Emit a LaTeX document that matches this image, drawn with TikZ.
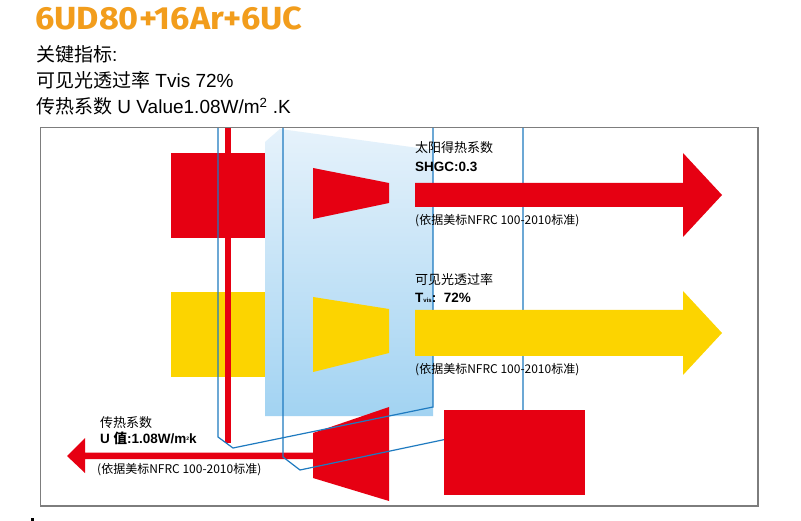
\documentclass[tikz,border=0pt]{standalone}
\usepackage{fontspec}
\setmainfont{Liberation Sans}
\newfontfamily\cjk{Noto Sans CJK SC}
\newfontfamily\titlefont{Fira Sans}
\definecolor{cred}{RGB}{230,0,18}
\definecolor{cyel}{RGB}{252,212,0}
\definecolor{cblue}{RGB}{30,122,192}
\definecolor{corange}{RGB}{242,157,28}
\definecolor{glasstop}{RGB}{230,242,251}
\definecolor{glassbot}{RGB}{162,211,242}
\definecolor{framegray}{RGB}{125,125,125}
\tikzset{
  redfill/.style={fill=cred,draw=none},
  yelfill/.style={fill=cyel,draw=none},
  paneline/.style={draw=cblue,line width=1.2pt,line join=miter},
  lbl/.style={inner sep=0pt,anchor=west},
}
\begin{document}
\begin{tikzpicture}[x=1pt,y=-1pt]
\useasboundingbox (0,0) rectangle (801,521);
\fill[white] (0,0) rectangle (801,521);
% title and key data
\node[lbl,anchor=base west,text=corange] (title) at (35,30) {\scalebox{1.07}[1]{\titlefont\bfseries\fontsize{32}{32}\selectfont 6UD80+16Ar+6UC}};
\node[lbl,anchor=base west] (k1) at (36,62) {\fontsize{19}{19}\selectfont{\cjk 关键指标}:};
\node[lbl,anchor=base west] (k2) at (36,88) {\fontsize{19}{19}\selectfont{\cjk 可见光透过率} Tvis 72\%};
\node[lbl,anchor=base west] (k3) at (36,114) {\fontsize{19}{19}\selectfont{\cjk 传热系数} U Value1.08W/m\textsuperscript{2} .K};
% frame
\draw[framegray,line width=1.3pt] (40.5,127.5) rectangle (758,506);
% glass
\shade[top color=glasstop,bottom color=glassbot] (265,142) -- (280,129) -- (433,150) -- (433,416) -- (265,416) -- cycle;
% left blocks
\fill[redfill] (171,153) rectangle (265,238);
\fill[yelfill] (171,292) rectangle (265,377);
% red vertical
\fill[redfill] (225,128) rectangle (231,443);
% trapezoids
\fill[redfill] (313,168) -- (389,183) -- (389,203) -- (313,219) -- cycle;
\fill[yelfill] (313,297) -- (389,309) -- (389,353) -- (313,372) -- cycle;
\fill[redfill] (313,433) -- (389,407) -- (389,501) -- (313,478) -- cycle;
% left arrow
\fill[redfill] (313,452.5) -- (85,452.5) -- (85,438) -- (67,456) -- (85,473) -- (85,459) -- (313,459) -- cycle;
% pane outlines
\draw[paneline] (218,128) -- (218,437) -- (233,448) -- (433,407) -- (433,128);
\draw[paneline] (283,128) -- (283,457) -- (300,470) -- (523,423) -- (523,128);
% right arrows
\fill[redfill] (415,183) -- (683,183) -- (683,153) -- (722,195) -- (683,237) -- (683,207) -- (415,207) -- cycle;
\fill[yelfill] (415,310) -- (683,310) -- (683,291) -- (722,333) -- (683,375) -- (683,356) -- (415,356) -- cycle;
% red box
\fill[redfill] (444,410) rectangle (585,495);
% labels
\node[lbl] (s1) at (415,148) {\cjk\fontsize{13}{13}\selectfont 太阳得热系数};
\node[lbl] (s2) at (415,167) {\fontsize{13.5}{13.5}\selectfont\bfseries SHGC:0.3};
\node[lbl] (s3) at (415,221) {\cjk\fontsize{12}{12}\selectfont (依据美标NFRC 100-2010标准)};
\node[lbl] (t1) at (415,280) {\cjk\fontsize{13}{13}\selectfont 可见光透过率};
\node[lbl] (t2) at (415,298) {\fontsize{13.5}{13.5}\selectfont\bfseries T{\fontsize{6}{6}\selectfont vis}:\ \ 72\%};
\node[lbl] (t3) at (415,370) {\cjk\fontsize{12}{12}\selectfont (依据美标NFRC 100-2010标准)};
\node[lbl] (u1) at (100,423) {\cjk\fontsize{13}{13}\selectfont 传热系数};
\node[lbl] (u2) at (100,438) {\fontsize{13.5}{13.5}\selectfont\bfseries U {\cjk\bfseries 值}:1.08W/m{\fontsize{5}{5}\selectfont\raisebox{3pt}{2}}k};
\node[lbl] (u3) at (97,470) {\cjk\fontsize{12}{12}\selectfont (依据美标NFRC 100-2010标准)};
\fill[black] (31,518) rectangle (33.5,520.5);
\end{tikzpicture}
\end{document}
